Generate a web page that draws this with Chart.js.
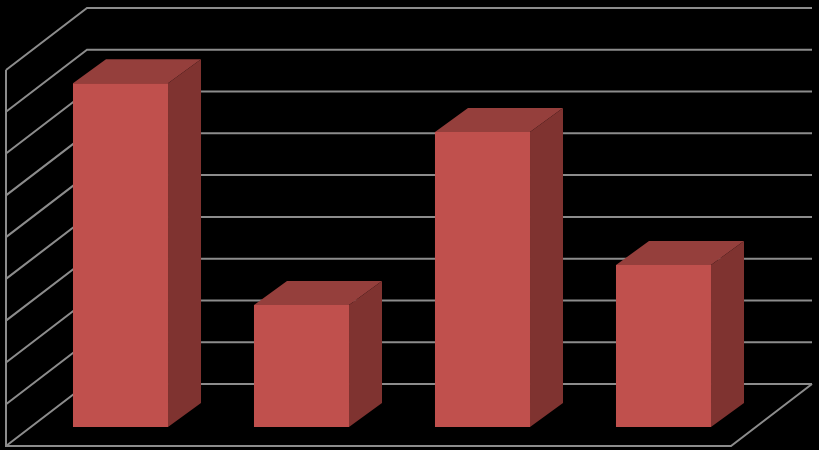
<!DOCTYPE html>
<html>
<head>
<meta charset="utf-8">
<style>
  html, body { margin: 0; padding: 0; background: #000; }
  #wrap { width: 819px; height: 450px; }
</style>
<script src="https://cdn.jsdelivr.net/npm/chart.js@4"></script>
</head>
<body>
<div id="wrap"><canvas id="myChart"></canvas></div>
<script>
const categories = ["A", "B", "C", "D"];
const values = [8.23, 2.92, 7.06, 3.88];
const yMax = 9;

const gridColor = "#8c8c8c";
const frontColor = "#c0504d";
const topColor = "#953f3c";
const sideColor = "#7f3330";

// offsets of the fake 3D box, all relative to the plane the bars stand in
const wallUp = 43;      // back wall sits this far above the bar plane
const wallLeftX = 87;
const wallRightX = 812;
const sideDx = 81;      // wall to front edge of the floor
const sideDy = 62;
const barDx = 33;       // bar depth
const barDy = 24;

const box3d = {
  id: "box3d",
  beforeDatasetsDraw(chart) {
    const ctx = chart.ctx;
    const y = chart.scales.y;
    ctx.save();
    ctx.strokeStyle = gridColor;
    ctx.lineWidth = 2;
    for (const t of y.ticks) {
      const py = y.getPixelForValue(t.value) - wallUp;
      ctx.beginPath();
      ctx.moveTo(wallLeftX - sideDx, py + sideDy);
      ctx.lineTo(wallLeftX, py);
      ctx.lineTo(wallRightX, py);
      ctx.stroke();
    }
    // left edge and floor
    const top = y.getPixelForValue(yMax) - wallUp + sideDy;
    const floor = y.getPixelForValue(0) - wallUp;
    ctx.beginPath();
    ctx.moveTo(wallLeftX - sideDx, top);
    ctx.lineTo(wallLeftX - sideDx, floor + sideDy);
    ctx.lineTo(wallRightX - sideDx, floor + sideDy);
    ctx.lineTo(wallRightX, floor);
    ctx.stroke();
    // top and side of each bar, behind the front face
    chart.getDatasetMeta(0).data.forEach(function (bar) {
      const half = bar.width / 2;
      const l = bar.x - half, r = bar.x + half;
      ctx.fillStyle = topColor;
      ctx.beginPath();
      ctx.moveTo(l, bar.y);
      ctx.lineTo(l + barDx, bar.y - barDy);
      ctx.lineTo(r + barDx, bar.y - barDy);
      ctx.lineTo(r, bar.y);
      ctx.closePath();
      ctx.fill();
      ctx.fillStyle = sideColor;
      ctx.beginPath();
      ctx.moveTo(r, bar.y);
      ctx.lineTo(r + barDx, bar.y - barDy);
      ctx.lineTo(r + barDx, bar.base - barDy);
      ctx.lineTo(r, bar.base);
      ctx.closePath();
      ctx.fill();
    });
    ctx.restore();
  }
};

new Chart("myChart", {
  type: "bar",
  data: {
    labels: categories,
    datasets: [{
      data: values,
      backgroundColor: frontColor,
      borderWidth: 0,
      barPercentage: 1,
      categoryPercentage: 0.525
    }]
  },
  options: {
    responsive: true,
    maintainAspectRatio: false,
    animation: false,
    layout: { padding: { left: 30, right: 65, top: 51, bottom: 23 } },
    plugins: { legend: { display: false }, tooltip: { enabled: false } },
    scales: {
      x: { display: false },
      y: { display: false, min: 0, max: yMax, ticks: { stepSize: 1 } }
    }
  },
  plugins: [box3d]
});
</script>
</body>
</html>
